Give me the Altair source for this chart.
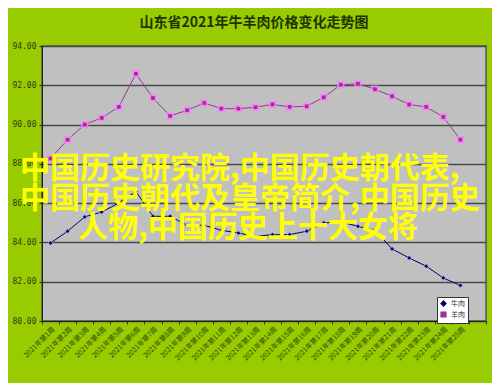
import altair as alt
import pandas as pd

weeks = ["2021年第1周", "2021年第2周", "2021年第3周", "2021年第4周", "2021年第5周",
         "2021年第6周", "2021年第7周", "2021年第8周", "2021年第9周", "2021年第10周",
         "2021年第11周", "2021年第12周", "2021年第13周", "2021年第14周", "2021年第15周",
         "2021年第16周", "2021年第17周", "2021年第18周", "2021年第19周", "2021年第20周",
         "2021年第21周", "2021年第22周", "2021年第23周", "2021年第24周", "2021年第25周"]
axis_slots = weeks + [" "]

beef = [83.97, 84.57, 85.30, 85.55, 86.01, 86.59, 85.33, 85.33, 84.87, 84.87,
        84.62, 84.48, 84.30, 84.40, 84.40, 84.57, 84.99, 85.05, 84.82, 84.62,
        83.67, 83.21, 82.79, 82.19, 81.81]
mutton = [88.27, 89.23, 90.00, 90.34, 90.90, 92.59, 91.35, 90.44, 90.73, 91.10,
          90.81, 90.81, 90.88, 91.03, 90.90, 90.93, 91.39, 92.03, 92.08, 91.80,
          91.44, 91.02, 90.90, 90.39, 89.23]
series_names = ["牛肉", "羊肉"]
y_ticks = [80, 82, 84, 86, 88, 90, 92, 94]

title_text = "山东省2021年牛羊肉价格变化走势图"
overlay_lines = ["中国历史研究院,中国历史朝代表,",
                 "中国历史朝代及皇帝简介,中国历史",
                 "人物,中国历史上十大女将"]

rows = []
for w, b, m in zip(weeks, beef, mutton):
    rows.append({"week": w, "series": series_names[0], "value": b})
    rows.append({"week": w, "series": series_names[1], "value": m})
df = pd.DataFrame(rows)

cjk = "Noto Sans CJK SC"

x_enc = alt.X("week:N", sort=None,
              scale=alt.Scale(type="band", domain=axis_slots, paddingInner=0, paddingOuter=0),
              axis=alt.Axis(title=None, labelAngle=-45, labelFontSize=7, labelFont=cjk,
                            labelColor="#2d4a00", tickBand="extent", tickSize=3,
                            tickColor="#333333", domainColor="#222222", labelPadding=1,
                            grid=False, labelOverlap=False))
y_enc = alt.Y("value:Q",
              scale=alt.Scale(domain=[80, 94], nice=False, zero=False),
              axis=alt.Axis(title=None, values=y_ticks, format=".2f", labelFontSize=8,
                            labelFont="DejaVu Sans Mono", labelColor="#2d3a1a",
                            tickSize=3, tickColor="#222222", domainColor="#222222",
                            gridColor="#4a4a4a", gridWidth=1.5, labelPadding=3))

color_scale = alt.Scale(domain=series_names, range=["#000066", "#993399"])
shape_scale = alt.Scale(domain=series_names, range=["diamond", "square"])
legend = alt.Legend(title=None, orient="none", legendX=395, legendY=251,
                    fillColor="#ffffff", strokeColor="#333333", padding=3,
                    labelFontSize=7, labelFont=cjk, symbolSize=22, rowPadding=0,
                    labelColor="#333333")

base = alt.Chart(df).encode(x=x_enc, y=y_enc)

lines = base.mark_line(strokeWidth=1).encode(
    color=alt.Color("series:N", scale=color_scale, legend=legend))

halo_b = base.transform_filter(alt.datum.series == series_names[0]).mark_point(
    filled=True, size=40, shape="diamond", color="#a9a9e0", opacity=0.6)
halo_m = base.transform_filter(alt.datum.series == series_names[1]).mark_point(
    filled=True, size=55, shape="square", color="#ff7fff", opacity=0.8)

pts = base.mark_point(filled=True, size=14, opacity=1).encode(
    color=alt.Color("series:N", scale=alt.Scale(domain=series_names, range=["#000066", "#cc33cc"]), legend=legend),
    shape=alt.Shape("series:N", scale=shape_scale, legend=legend))

overlay_x = [-22, -22, 36]
overlay_y = [123, 153, 182]
texts = []
for line, ox, oy in zip(overlay_lines, overlay_x, overlay_y):
    texts.append(alt.Chart(alt.Data(values=[{"t": line}])).mark_text(
        align="left", baseline="middle", font=cjk, fontSize=30, fontWeight="bold",
        color="#FFFF00").encode(text="t:N", x=alt.value(ox), y=alt.value(oy)))

chart = alt.layer(lines, halo_b, halo_m, pts, *texts).resolve_scale(color="shared").properties(
    width=444, height=275,
    padding={"left": 34, "top": 38, "right": 6, "bottom": 62},
    autosize=alt.AutoSizeParams(type="none"),
    background="#99CC00",
    title=alt.TitleParams(title_text, fontSize=14, font=cjk, fontWeight="bold",
                          color="#1f3300", anchor="middle", dx=-10, offset=12),
).configure_view(fill="#C0C0C0", stroke="#555555", strokeWidth=1.5)

chart.save("out.html", embed_options={"renderer": "svg", "actions": False})
